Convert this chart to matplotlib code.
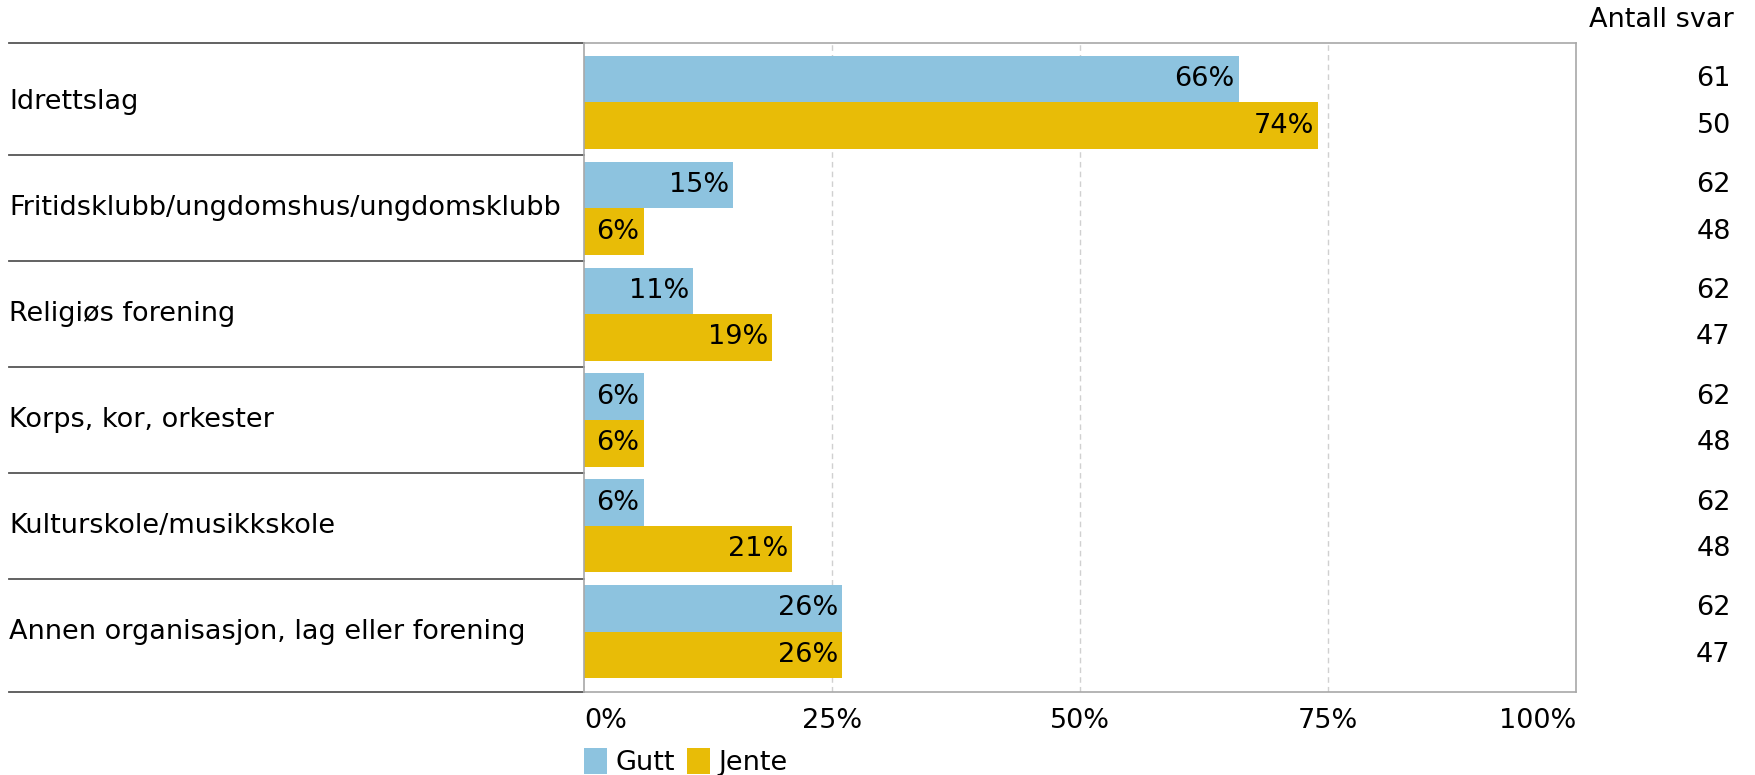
import numpy as np
import matplotlib.pyplot as plt

# Data
categories = ["Idrettslag", "Fritidsklubb/ungdomshus/ungdomsklubb", "Religiøs forening",
              "Korps, kor, orkester", "Kulturskole/musikkskole",
              "Annen organisasjon, lag eller forening"]
gutt = [66, 15, 11, 6, 6, 26]
jente = [74, 6, 19, 6, 21, 26]
n_gutt = [61, 62, 62, 62, 62, 62]
n_jente = [50, 48, 47, 48, 48, 47]
series = ["Gutt", "Jente"]
ticks = [0, 25, 50, 75, 100]

blue = "#8DC3DF"
yellow = "#E8BC07"
fs = 19.5

fig = plt.figure(figsize=(17.55, 7.75), dpi=100)
ax = fig.add_axes([584 / 1755, 1 - 691.6 / 775, (1576 - 584) / 1755, (691.6 - 42.5) / 775])

y = np.arange(len(categories))
h = 0.44
b1 = ax.barh(y - h / 2, gutt, height=h, color=blue, label=series[0], zorder=2)
b2 = ax.barh(y + h / 2, jente, height=h, color=yellow, label=series[1], zorder=2)

for bars, vals in ((b1, gutt), (b2, jente)):
    for bar, v in zip(bars, vals):
        ax.text(v - 0.4, bar.get_y() + bar.get_height() / 2, f"{v}%",
                ha="right", va="center", fontsize=fs, zorder=3)

ax.set_xlim(0, 100)
ax.set_ylim(len(categories) - 0.435, -0.565)
ax.set_yticks([])
ax.set_xticks(ticks)
ax.set_xticklabels([f"{t}%" for t in ticks], fontsize=fs)
for lbl, t in zip(ax.get_xticklabels(), ticks):
    if t == 0:
        lbl.set_ha("left")
    elif t == 100:
        lbl.set_ha("right")
ax.tick_params(axis="x", length=0, pad=12)
for t in ticks[1:-1]:
    ax.axvline(t, color="#d0d0d0", linestyle=(0, (4, 3)), linewidth=1, zorder=1)
for s in ax.spines.values():
    s.set_color("#a8a8a8")
    s.set_linewidth(1.2)

# label column with separator lines
tr = ax.get_yaxis_transform()
x0 = -0.5796
for i, c in enumerate(categories):
    ax.text(x0, i, c, transform=tr, ha="left", va="center", fontsize=fs)
seps = [-0.565] + [i + 0.5 for i in range(len(categories) - 1)] + [len(categories) - 0.435]
for sy in seps:
    ax.plot([x0, 0], [sy, sy], transform=tr, color="#555555", linewidth=1.3, clip_on=False)

# Antall svar column
ax.text(1.159, -0.775, "Antall svar", transform=tr, ha="right", va="center", fontsize=fs)
for i in range(len(categories)):
    ax.text(1.156, i - h / 2, str(n_gutt[i]), transform=tr, ha="right", va="center", fontsize=fs)
    ax.text(1.156, i + h / 2, str(n_jente[i]), transform=tr, ha="right", va="center", fontsize=fs)

ax.legend(loc="center left", bbox_to_anchor=(0, -0.108), ncol=2, frameon=False,
          fontsize=fs, handlelength=0.85, handleheight=1.1, handletextpad=0.3,
          columnspacing=0.45, borderpad=0, borderaxespad=0)

fig.savefig("out.png", dpi=100)
